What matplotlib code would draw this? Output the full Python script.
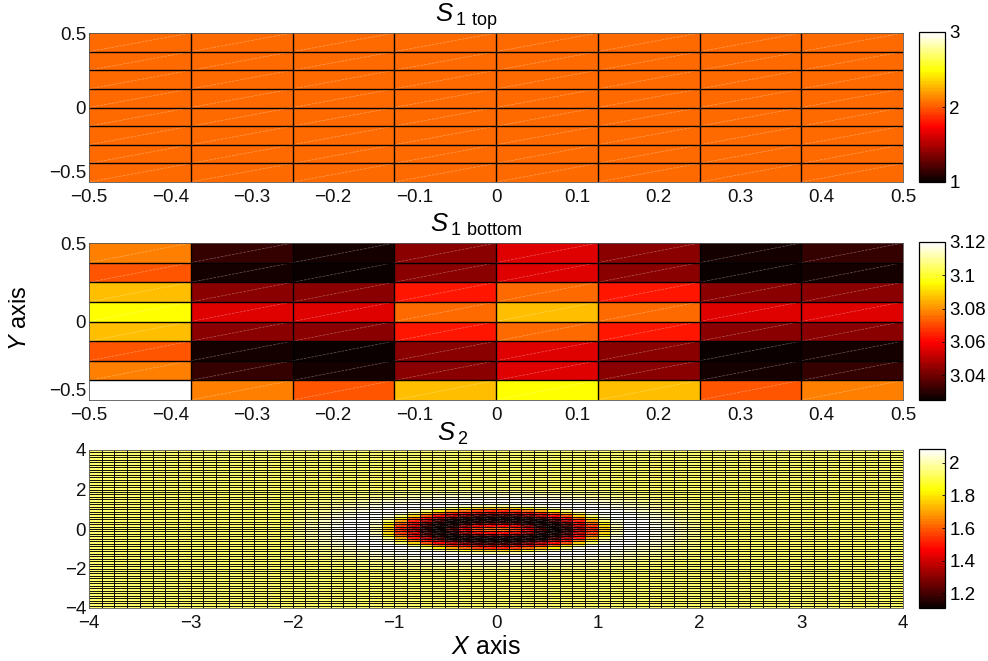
import numpy as np
import matplotlib
matplotlib.use('Agg')
import matplotlib.pyplot as plt
from matplotlib.collections import LineCollection

# Values
s1_top_row = [2.04, 2.04, 2.04, 2.04, 2.04, 2.04, 2.04, 2.04]
s1_top = [s1_top_row] * 8

# rows listed top to bottom
s1_bottom = [
    [3.078, 3.032, 3.027, 3.043, 3.055, 3.043, 3.027, 3.032],
    [3.072, 3.027, 3.025, 3.043, 3.055, 3.043, 3.025, 3.027],
    [3.086, 3.043, 3.043, 3.063, 3.075, 3.063, 3.043, 3.043],
    [3.096, 3.055, 3.055, 3.075, 3.086, 3.075, 3.055, 3.055],
    [3.086, 3.043, 3.043, 3.063, 3.075, 3.063, 3.043, 3.043],
    [3.072, 3.027, 3.025, 3.043, 3.055, 3.043, 3.025, 3.027],
    [3.078, 3.032, 3.027, 3.043, 3.055, 3.043, 3.027, 3.032],
    [3.120, 3.078, 3.072, 3.086, 3.096, 3.086, 3.072, 3.078],
]

# one quarter of S2 (x100), from the centre outwards; the field is symmetric
s2_quarter = [
    [160, 155, 140, 122, 112, 118, 135, 152, 175, 198, 207, 208, 206, 203, 200, 197],
    [145, 140, 128, 115, 113, 120, 137, 155, 178, 200, 207, 208, 206, 203, 200, 197],
    [125, 122, 116, 113, 115, 126, 143, 161, 183, 203, 207, 208, 205, 202, 199, 197],
    [113, 113, 113, 112, 120, 135, 150, 170, 192, 205, 208, 207, 205, 202, 199, 196],
    [112, 113, 115, 120, 132, 146, 161, 180, 200, 207, 208, 206, 204, 201, 198, 196],
    [118, 120, 126, 135, 146, 158, 175, 194, 205, 208, 207, 205, 203, 200, 197, 195],
    [135, 137, 143, 150, 161, 175, 192, 204, 207, 208, 206, 204, 201, 198, 196, 195],
    [152, 155, 161, 170, 180, 194, 204, 207, 208, 207, 205, 202, 200, 197, 195, 195],
    [175, 178, 183, 192, 200, 205, 207, 208, 207, 205, 203, 201, 199, 196, 195, 194],
    [198, 200, 203, 205, 207, 208, 208, 207, 206, 204, 202, 200, 198, 196, 195, 194],
    [207, 207, 207, 208, 208, 207, 206, 205, 204, 202, 200, 198, 196, 195, 194, 194],
    [208, 208, 208, 207, 206, 205, 204, 203, 201, 200, 198, 196, 195, 194, 194, 193],
    [206, 206, 205, 205, 204, 203, 201, 200, 198, 197, 195, 195, 194, 194, 193, 193],
    [203, 203, 202, 202, 201, 200, 198, 197, 196, 195, 195, 194, 194, 193, 193, 193],
    [200, 200, 199, 199, 198, 197, 196, 195, 195, 194, 194, 194, 193, 193, 193, 193],
    [197, 197, 197, 196, 196, 195, 195, 195, 194, 194, 194, 193, 193, 193, 193, 193],
]
s2_far = 193

x_ticks_s1 = [-0.5, -0.4, -0.3, -0.2, -0.1, 0, 0.1, 0.2, 0.3, 0.4, 0.5]
x_labels_s1 = ['\u22120.5', '\u22120.4', '\u22120.3', '\u22120.2', '\u22120.1', '0', '0.1', '0.2', '0.3', '0.4', '0.5']
y_ticks_s1 = [-0.5, 0, 0.5]
y_labels_s1 = ['\u22120.5', '0', '0.5']
x_ticks_s2 = [-4, -3, -2, -1, 0, 1, 2, 3, 4]
y_ticks_s2 = [-4, -2, 0, 2, 4]
cb_ticks_top = [1, 2, 3]
cb_ticks_bottom = [3.04, 3.06, 3.08, 3.1, 3.12]
cb_labels_bottom = ['3.04', '3.06', '3.08', '3.1', '3.12']
cb_ticks_s2 = [1.2, 1.4, 1.6, 1.8, 2]
cb_labels_s2 = ['1.2', '1.4', '1.6', '1.8', '2']

plt.rcParams['font.family'] = 'Liberation Sans'
plt.rcParams['mathtext.fontset'] = 'custom'
plt.rcParams['mathtext.rm'] = 'Liberation Sans'
plt.rcParams['mathtext.it'] = 'Liberation Sans:italic'

W, H = 988, 661
fig = plt.figure(figsize=(W / 100, H / 100), dpi=100)
cmap = plt.get_cmap('hot', 64)


def box(left, top, right, bottom):
    # pixel box to figure fractions
    return [left / W, 1 - bottom / H, (right - left) / W, (bottom - top) / H]


def panel(values, lim, clim, top, bottom, xt, xl, yt, yl, ct, cl, grid_lw=1.0, diag_lw=0.5, diag_alpha=0.35):
    ax = fig.add_axes(box(89, top, 903, bottom))
    ny, nx = values.shape
    xe = np.linspace(lim[0], lim[1], nx + 1)
    ye = np.linspace(lim[3], lim[2], ny + 1)
    mesh = ax.pcolormesh(xe, ye, values, cmap=cmap, vmin=clim[0], vmax=clim[1])
    # faint triangle seams of the patches
    segs = []
    for i in range(ny):
        for j in range(nx):
            segs.append([(xe[j], ye[i + 1]), (xe[j + 1], ye[i])])
    ax.add_collection(LineCollection(segs, colors='white', linewidths=diag_lw,
                                     alpha=diag_alpha, linestyles=(0, (4, 1.5))))
    # grid lines drawn apart from the mesh so they stay one pixel wide
    ax.hlines(ye[1:-1], lim[0], lim[1], colors='black', linewidth=grid_lw)
    ax.vlines(xe[1:-1], lim[2], lim[3], colors='black', linewidth=grid_lw)
    ax.set_xlim(lim[0], lim[1])
    ax.set_ylim(lim[2], lim[3])
    ax.set_xticks(xt)
    ax.set_xticklabels(xl)
    ax.set_yticks(yt)
    ax.set_yticklabels(yl)
    ax.tick_params(length=0, labelsize=13.5, colors='#111111')
    ax.tick_params(axis='y', pad=2)
    ax.tick_params(axis='x', pad=5)
    for s in ax.spines.values():
        s.set_linewidth(0.6)
        s.set_color('#555555')

    cax = fig.add_axes(box(919, top - 1, 945, bottom))
    cb = fig.colorbar(mesh, cax=cax)
    cb.set_ticks(ct)
    cb.set_ticklabels(cl)
    cb.ax.tick_params(direction='in', length=2.5, width=0.6, pad=3, labelsize=13.5)
    cb.outline.set_linewidth(0.9)
    return ax


top_vals = np.array(s1_top)
bottom_vals = np.array(s1_bottom)
quarter = np.array(s2_quarter) / 100.0
quarter = np.pad(quarter, ((0, 16), (0, 16)), constant_values=s2_far / 100.0)
right_half = np.vstack([quarter[::-1], quarter])
s2_vals = np.hstack([right_half[:, ::-1], right_half])

ax1 = panel(top_vals, (-0.5, 0.5, -0.5, 0.5), (1, 3), 33, 182,
            x_ticks_s1, x_labels_s1, y_ticks_s1, y_labels_s1, cb_ticks_top, ['1', '2', '3'])
ax2 = panel(bottom_vals, (-0.5, 0.5, -0.5, 0.5), (3.025, 3.12), 243, 400,
            x_ticks_s1, x_labels_s1, y_ticks_s1, y_labels_s1, cb_ticks_bottom, cb_labels_bottom)
ax3 = panel(s2_vals, (-4, 4, -4, 4), (1.11, 2.085), 450, 608,
            x_ticks_s2, ['\u22124', '\u22123', '\u22122', '\u22121', '0', '1', '2', '3', '4'],
            y_ticks_s2, ['\u22124', '\u22122', '0', '2', '4'],
            cb_ticks_s2, cb_labels_s2, grid_lw=0.65, diag_lw=0.4, diag_alpha=0.4)

# the -0.5 labels sit a little above the axis corner in the original
ax1.get_yticklabels()[0].set_va('bottom')
ax2.get_yticklabels()[0].set_va('bottom')

# Titles and axis names
fig.text(435 / W, 1 - 17 / H, r'$S\,_{1\ \mathrm{top}}$', fontsize=18.5, ha='left', va='center')
fig.text(430 / W, 1 - 225 / H, r'$S\,_{1\ \mathrm{bottom}}$', fontsize=18.5, ha='left', va='center')
fig.text(437 / W, 1 - 434 / H, r'$S\,_{2}$', fontsize=18.5, ha='left', va='center')
fig.text(486 / W, 1 - 647 / H, r'$X$ axis', fontsize=18, ha='center', va='center')
fig.text(20 / W, 1 - 318 / H, r'$Y$ axis', fontsize=17, ha='center', va='center', rotation=90)

plt.savefig('out.png', dpi=100)
